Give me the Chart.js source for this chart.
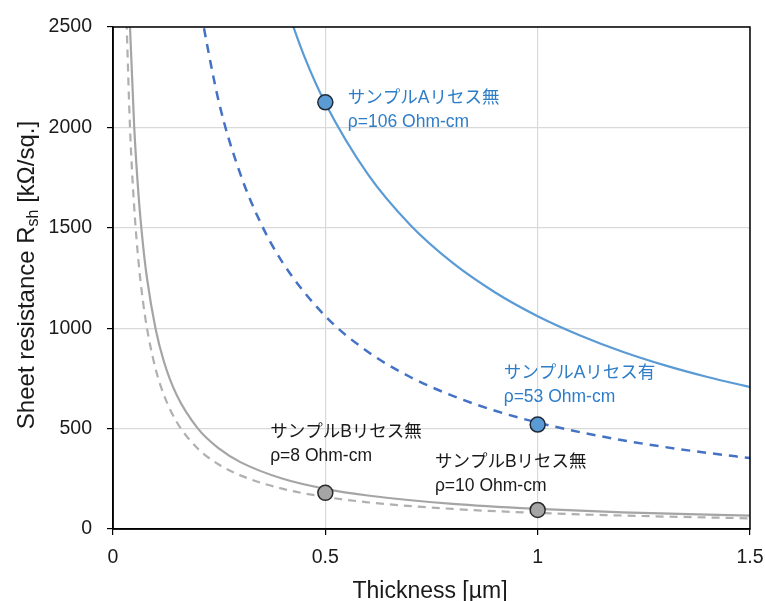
<!DOCTYPE html>
<html>
<head>
<meta charset="utf-8">
<script src="https://cdn.jsdelivr.net/npm/chart.js@4.4.0/dist/chart.umd.min.js"></script>
<style>
  html, body { margin: 0; padding: 0; background: #fff; }
  #wrap { width: 765px; height: 601px; }
</style>
</head>
<body>
<div id="wrap"><canvas id="c" width="765" height="601"></canvas></div>
<script>
// thickness [um] and sheet resistance [kOhm/sq.]
const tA0 = [0.40, 0.45, 0.5, 0.6, 0.7, 0.8, 0.9, 1.0, 1.1, 1.2, 1.3, 1.4, 1.5];
const rA0 = [2650, 2356, 2120, 1767, 1514, 1325, 1178, 1060, 964, 883, 815, 757, 707];   // A, no recess, 106 Ohm-cm

const tA1 = [0.20, 0.25, 0.3, 0.35, 0.4, 0.5, 0.6, 0.7, 0.8, 0.9, 1.0, 1.1, 1.2, 1.3, 1.4, 1.5];
const rA1 = [2650, 2120, 1767, 1514, 1325, 1060, 883, 757, 663, 589, 530, 482, 442, 408, 379, 353]; // A, recess, 53 Ohm-cm

const tB10 = [0.035, 0.04, 0.05, 0.06, 0.07, 0.08, 0.1, 0.12, 0.15, 0.2, 0.25, 0.3, 0.4, 0.5, 0.6, 0.8, 1.0, 1.2, 1.5];
const rB10 = [2857, 2500, 2000, 1667, 1429, 1250, 1000, 833, 667, 500, 400, 333, 250, 200, 167, 125, 100, 83, 67];

const tB8 = [0.03, 0.04, 0.05, 0.06, 0.07, 0.08, 0.1, 0.12, 0.15, 0.2, 0.25, 0.3, 0.4, 0.5, 0.6, 0.8, 1.0, 1.2, 1.5];
const rB8 = [2667, 2000, 1600, 1333, 1143, 1000, 800, 667, 533, 400, 320, 267, 200, 160, 133, 100, 80, 67, 53];

// measured samples
const blueX = [0.5, 1.0];
const blueY = [2125, 520];
const grayX = [0.5, 1.0];
const grayY = [180, 95];

const xTicks = [0, 0.5, 1, 1.5];
const yTicks = [0, 500, 1000, 1500, 2000, 2500];

const labels = [
  { x: 0.553, y: 2146, lines: ['サンプルAリセス無', 'ρ=106 Ohm-cm'], color: '#2e7dc8' },
  { x: 0.920, y: 777, lines: ['サンプルAリセス有', 'ρ=53 Ohm-cm'], color: '#2e7dc8' },
  { x: 0.370, y: 483, lines: ['サンプルBリセス無', 'ρ=8 Ohm-cm'], color: '#1a1a1a' },
  { x: 0.758, y: 334, lines: ['サンプルBリセス無', 'ρ=10 Ohm-cm'], color: '#1a1a1a' }
];

const FONT = '"Liberation Sans", Arial, "Noto Sans CJK JP", sans-serif';
const toXY = (xs, ys) => xs.map((x, i) => ({ x: x, y: ys[i] }));

const decor = {
  id: 'decor',
  afterDatasetsDraw(chart) {
    const { ctx, chartArea: a, scales } = chart;
    ctx.save();
    ctx.strokeStyle = '#000';
    ctx.lineWidth = 1.5;
    ctx.strokeRect(a.left, a.top, a.right - a.left, a.bottom - a.top);

    ctx.textBaseline = 'middle';
    ctx.textAlign = 'left';
    ctx.font = '17.5px ' + FONT;
    labels.forEach(l => {
      const px = scales.x.getPixelForValue(l.x);
      const py = scales.y.getPixelForValue(l.y);
      ctx.fillStyle = l.color;
      l.lines.forEach((s, i) => ctx.fillText(s, px, py + i * 24));
    });

    // y title with subscript
    ctx.fillStyle = '#1a1a1a';
    ctx.translate(27, 275);
    ctx.rotate(-Math.PI / 2);
    const big = '24px ' + FONT, small = '16px ' + FONT;
    const p1 = 'Sheet resistance R', p2 = 'sh', p3 = ' [kΩ/sq.]';
    ctx.font = big; const w1 = ctx.measureText(p1).width, w3 = ctx.measureText(p3).width;
    ctx.font = small; const w2 = ctx.measureText(p2).width;
    let x0 = -(w1 + w2 + w3) / 2;
    ctx.font = big; ctx.fillText(p1, x0, 0);
    ctx.font = small; ctx.fillText(p2, x0 + w1, 7);
    ctx.font = big; ctx.fillText(p3, x0 + w1 + w2, 0);
    ctx.restore();

    ctx.save();
    ctx.fillStyle = '#1a1a1a';
    ctx.font = '23px ' + FONT;
    ctx.textAlign = 'center';
    ctx.textBaseline = 'alphabetic';
    ctx.fillText('Thickness [µm]', 430, 598);
    ctx.restore();
  }
};

new Chart(document.getElementById('c'), {
  type: 'line',
  data: {
    datasets: [
      { type: 'scatter', data: toXY(blueX, blueY), backgroundColor: '#5b9bd5', borderColor: '#1e2a38',
        borderWidth: 1.5, pointRadius: 7.5, order: 0 },
      { type: 'scatter', data: toXY(grayX, grayY), backgroundColor: '#a5a5a5', borderColor: '#2a2a2a',
        borderWidth: 1.5, pointRadius: 7.5, order: 0 },
      { data: toXY(tA0, rA0), borderColor: '#5b9bd5', borderWidth: 2.2, pointRadius: 0,
        cubicInterpolationMode: 'monotone', order: 1 },
      { data: toXY(tA1, rA1), borderColor: '#4472c4', borderWidth: 2.5, borderDash: [9, 7], pointRadius: 0,
        cubicInterpolationMode: 'monotone', order: 1 },
      { data: toXY(tB10, rB10), borderColor: '#a5a5a5', borderWidth: 2.2, pointRadius: 0,
        cubicInterpolationMode: 'monotone', order: 1 },
      { data: toXY(tB8, rB8), borderColor: '#b0b0b0', borderWidth: 2.2, borderDash: [8, 6], pointRadius: 0,
        cubicInterpolationMode: 'monotone', order: 1 }
    ]
  },
  options: {
    responsive: false,
    animation: false,
    layout: { padding: { left: 0, right: 15, top: 27, bottom: 0 } },
    plugins: { legend: { display: false }, tooltip: { enabled: false } },
    scales: {
      x: {
        type: 'linear', min: 0, max: 1.5,
        afterBuildTicks: s => { s.ticks = xTicks.map(v => ({ value: v })); },
        afterFit: s => { s.height = 72; s.paddingLeft = 0; s.paddingRight = 0; },
        grid: { color: '#d9d9d9', lineWidth: 1.2, tickLength: 6, tickColor: '#000' },
        border: { display: true, color: '#000', width: 1.5 },
        ticks: { color: '#1a1a1a', font: { family: FONT, size: 19.5 }, padding: 11, maxRotation: 0,
          callback: v => String(v) }
      },
      y: {
        type: 'linear', min: 0, max: 2500,
        afterBuildTicks: s => { s.ticks = yTicks.map(v => ({ value: v })); },
        afterFit: s => { s.width = 113; s.paddingTop = 0; s.paddingBottom = 0; },
        grid: { color: '#d9d9d9', lineWidth: 1.2, tickLength: 6, tickColor: '#000' },
        border: { display: true, color: '#000', width: 1.5 },
        ticks: { color: '#1a1a1a', font: { family: FONT, size: 19.5 }, padding: 15,
          callback: v => String(v) }
      }
    }
  },
  plugins: [decor]
});
</script>
</body>
</html>
